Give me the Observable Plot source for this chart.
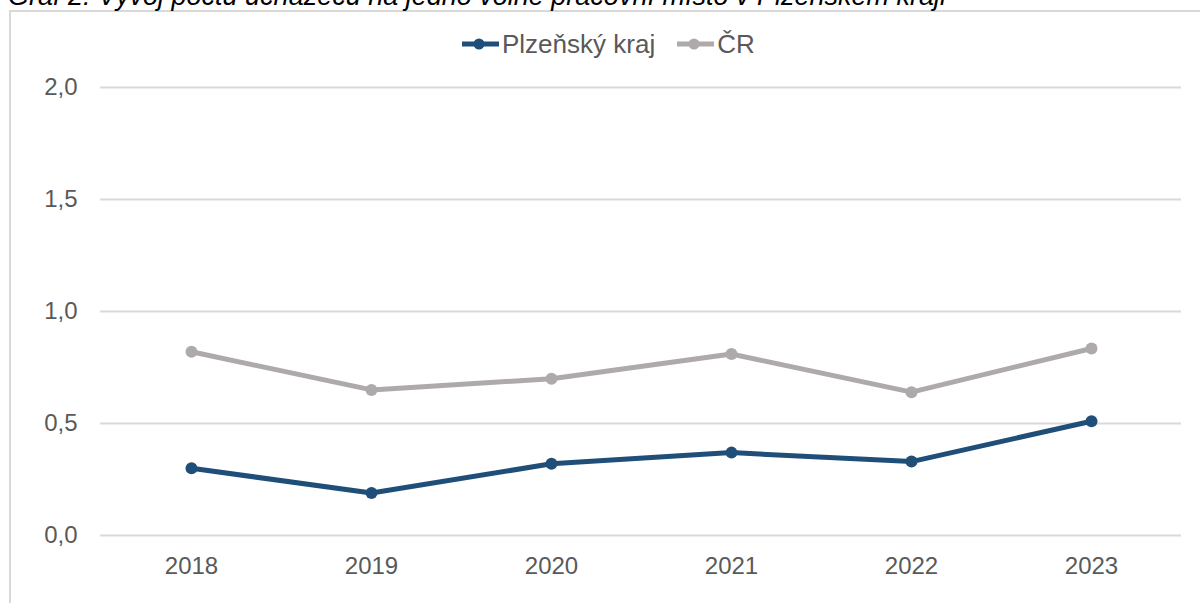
<!DOCTYPE html>
<html>
<head>
<meta charset="utf-8">
<script src="https://cdn.jsdelivr.net/npm/d3@7"></script>
<script src="https://cdn.jsdelivr.net/npm/@observablehq/plot@0.6"></script>
<style>
  html, body { margin: 0; padding: 0; background: #fff; }
  #wrap { position: relative; width: 1200px; height: 603px; overflow: hidden; font-family: "Liberation Sans", Arial, sans-serif; }
  #title { position: absolute; left: 8px; top: -17px; font-size: 27px; line-height: 27px; font-style: italic; color: #000; white-space: nowrap; }
  #frame { position: absolute; left: 9px; top: 10px; width: 1200px; height: 700px; border-left: 2px solid #d9d9d9; border-top: 2px solid #d9d9d9; }
  #legend { position: absolute; top: 29px; left: 462px; display: flex; gap: 22px; font-size: 26px; line-height: 30px; color: #595959; }
  .item { display: flex; align-items: center; gap: 3px; }
  #chart { position: absolute; left: 0; top: 0; }
</style>
</head>
<body>
<div id="wrap">
  <div id="frame"></div>
  <div id="title"></div>
  <div id="legend"></div>
  <div id="chart"></div>
</div>
<script>
const titleText = "Graf 2: Vývoj počtu uchazečů na jedno volné pracovní místo v Plzeňském kraji";
const years = ["2018", "2019", "2020", "2021", "2022", "2023"];
const plzen = [0.30, 0.19, 0.32, 0.37, 0.33, 0.51];
const cr = [0.82, 0.65, 0.70, 0.81, 0.64, 0.835];
const seriesNames = ["Plzeňský kraj", "ČR"];
const seriesColors = ["#1f4e79", "#aeaaaa"];
const yTicks = [0, 0.5, 1, 1.5, 2];

document.getElementById("title").textContent = titleText;

const legend = document.getElementById("legend");
seriesNames.forEach((name, i) => {
  const item = document.createElement("div");
  item.className = "item";
  item.innerHTML = `<svg width="37" height="12"><line x1="0" x2="37" y1="6" y2="6" stroke="${seriesColors[i]}" stroke-width="5"/><circle cx="17" cy="6" r="5.5" fill="${seriesColors[i]}"/></svg><span>${name}</span>`;
  legend.appendChild(item);
});

const data = [];
years.forEach((y, i) => {
  data.push({year: y, value: plzen[i], series: seriesNames[0]});
  data.push({year: y, value: cr[i], series: seriesNames[1]});
});

const chart = Plot.plot({
  width: 1200,
  height: 603,
  marginLeft: 100,
  marginRight: 19,
  marginTop: 87,
  marginBottom: 68,
  style: {fontFamily: "'Liberation Sans', Arial, sans-serif", fontSize: "24px", color: "#595959", background: "transparent"},
  x: {type: "point", domain: years, padding: 0.5, label: null, tickSize: 0, tickPadding: 21},
  y: {domain: [0, 2], ticks: yTicks, tickFormat: d => d3.format(".1f")(d).replace(".", ","), label: null, tickSize: 0, tickPadding: 23},
  color: {domain: seriesNames, range: seriesColors},
  marks: [
    Plot.ruleY(yTicks, {stroke: "#d9d9d9", strokeWidth: 2}),
    Plot.line(data, {x: "year", y: "value", z: "series", stroke: "series", strokeWidth: 5}),
    Plot.dot(data, {x: "year", y: "value", fill: "series", r: 6})
  ]
});
document.getElementById("chart").appendChild(chart);
</script>
</body>
</html>
